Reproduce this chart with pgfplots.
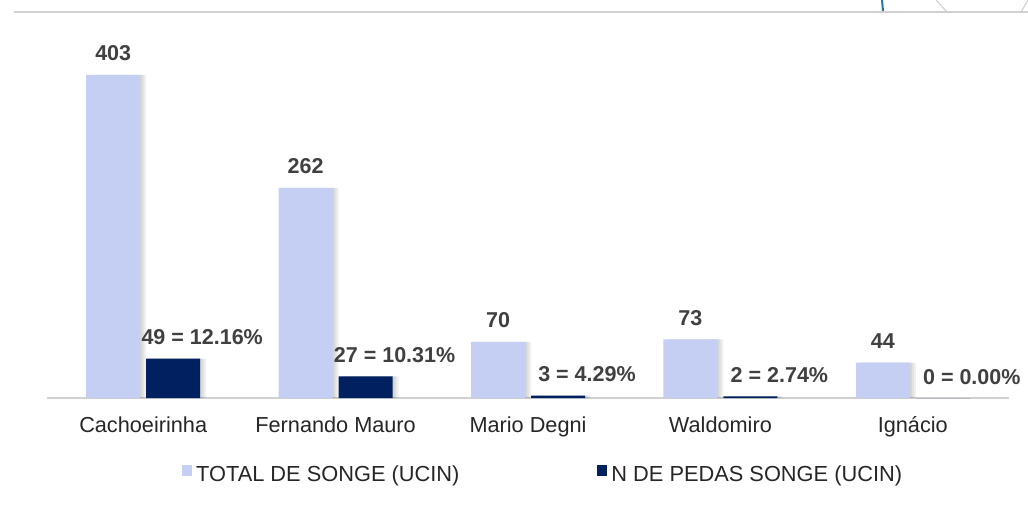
\documentclass[border=0pt]{standalone}
\usepackage{fontspec}
\setmainfont{Liberation Sans}
\usepackage{pgfplots}
\pgfplotsset{compat=1.18}
\definecolor{lightbar}{HTML}{C5CFF3}
\definecolor{darkbar}{HTML}{002060}
\definecolor{lbl}{HTML}{404040}
\definecolor{tck}{HTML}{262626}
\definecolor{deco}{HTML}{1F7A99}
\begin{document}
\begin{tikzpicture}[x=1pt,y=1pt]
\useasboundingbox (0,0) rectangle (1028,507);
\draw[black!18, line width=1.2pt] (14,495) -- (1028,495);
\draw[deco, line width=2pt] (882,507) .. controls (883,502) .. (883,496);
\draw[black!20, line width=1pt] (936,507) -- (947,495);
\draw[black!20, line width=1pt] (1028,507) -- (1021,495);
\begin{axis}[
  at={(47pt,109pt)}, anchor=south west,
  scale only axis, width=962pt, height=384pt,
  xmin=-0.5, xmax=4.5, ymin=0, ymax=479,
  ybar,
  axis x line*=bottom, axis y line=none,
  x axis line style={draw=black!18, line width=1.2pt},
  xtick={0,1,2,3,4},
  xticklabels={Cachoeirinha,Fernando Mauro,Mario Degni,Waldomiro,Ignácio},
  major tick length=0pt,
  xticklabel style={font=\fontsize{21.7}{26}\selectfont, text=tck, anchor=base, yshift=-34pt},
  clip=false,
  legend columns=2,
  legend style={at={(rel axis cs:0.1403,0)}, anchor=west, yshift=-76pt, draw=none, fill=none,
    font=\fontsize{21.8}{26}\selectfont, text=tck, inner sep=0pt,
    /tikz/every odd column/.append style={column sep=2pt},
    /tikz/every even column/.append style={column sep=136pt}},
]
% soft shadows (same data)
\addplot[forget plot, fill=black, opacity=0.06, draw=none, bar width=54pt, bar shift=-24pt]
  coordinates {(0,403) (1,262) (2,70) (3,73) (4,44)};
\addplot[forget plot, fill=black, opacity=0.06, draw=none, bar width=54pt, bar shift=-26pt]
  coordinates {(0,403) (1,262) (2,70) (3,73) (4,44)};
\addplot[forget plot, fill=black, opacity=0.06, draw=none, bar width=54pt, bar shift=-28pt]
  coordinates {(0,403) (1,262) (2,70) (3,73) (4,44)};
\addplot[forget plot, fill=black, opacity=0.06, draw=none, bar width=54pt, bar shift=36pt]
  coordinates {(0,49) (1,27) (2,3) (3,2)};
\addplot[forget plot, fill=black, opacity=0.06, draw=none, bar width=54pt, bar shift=34pt]
  coordinates {(0,49) (1,27) (2,3) (3,2)};
\addplot[forget plot, fill=black, opacity=0.06, draw=none, bar width=54pt, bar shift=32pt]
  coordinates {(0,49) (1,27) (2,3) (3,2)};
\addplot[fill=lightbar, draw=none, bar width=54pt, bar shift=-30pt,
  point meta=explicit symbolic,
  nodes near coords={\pgfplotspointmeta},
  every node near coord/.append style={font=\bfseries\fontsize{21.5}{26}\selectfont, text=lbl, anchor=base, yshift=14pt},
  legend image code/.code={\fill[lightbar] (0pt,-2pt) rectangle (10pt,9pt);}]
  coordinates {(0,403) [403] (1,262) [262] (2,70) [70] (3,73) [73] (4,44) [44]};
\addlegendentry{TOTAL DE SONGE (UCIN)}
\addplot[fill=darkbar, draw=none, bar width=54pt, bar shift=30pt,
  point meta=explicit symbolic,
  nodes near coords={\pgfplotspointmeta},
  every node near coord/.append style={font=\bfseries\fontsize{21.5}{26}\selectfont, text=lbl, anchor=base, yshift=14pt, xshift=29pt},
  legend image code/.code={\fill[darkbar] (0pt,-2pt) rectangle (10pt,9pt);}]
  coordinates {(0,49) [49 = 12.16\%] (1,27) [27 = 10.31\%] (2,3) [3 = 4.29\%] (3,2) [2 = 2.74\%] (4,0) [0 = 0.00\%]};
\addlegendentry{N DE PEDAS SONGE (UCIN)}
\end{axis}
\end{tikzpicture}
\end{document}
